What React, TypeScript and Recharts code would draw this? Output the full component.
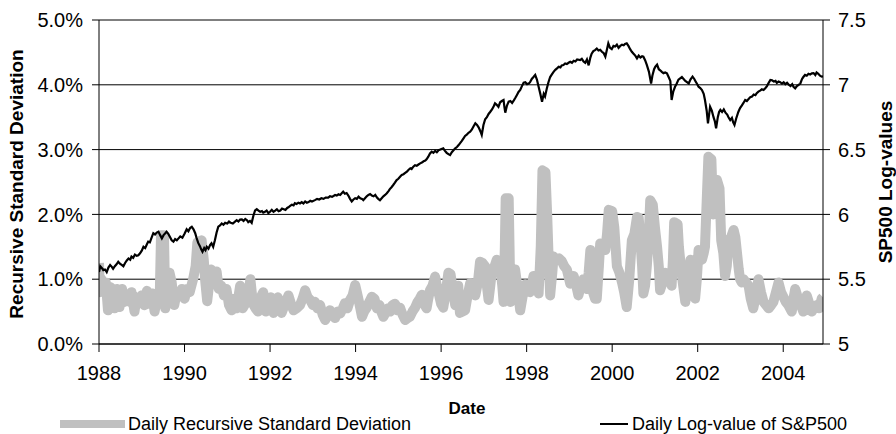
import React from "react";
import { LineChart, Line, XAxis, YAxis, CartesianGrid } from "recharts";

// daily recursive standard deviation of returns, in percent: [year, value]
const sdSeries: [number, number][] = [
  [1988.0, 1.25], [1988.02, 0.8], [1988.06, 1.0], [1988.11, 0.9], [1988.16, 0.95], [1988.21, 0.52],
  [1988.26, 0.88], [1988.31, 0.85], [1988.36, 0.55], [1988.42, 0.85], [1988.48, 0.57], [1988.54, 0.85],
  [1988.6, 0.65], [1988.66, 0.72], [1988.72, 0.65], [1988.76, 0.8], [1988.83, 0.5], [1988.88, 0.72],
  [1988.94, 0.68], [1989.0, 0.75], [1989.06, 0.6], [1989.12, 0.82], [1989.18, 0.62], [1989.24, 0.78],
  [1989.3, 0.5], [1989.36, 0.7], [1989.42, 0.72], [1989.45, 1.68], [1989.52, 1.68], [1989.55, 0.55],
  [1989.6, 0.8], [1989.65, 1.1], [1989.7, 0.95], [1989.76, 0.6], [1989.82, 0.8], [1989.88, 0.75],
  [1989.94, 0.85], [1990.0, 0.7], [1990.06, 0.85], [1990.12, 0.8], [1990.2, 1.0], [1990.26, 1.2],
  [1990.3, 1.57], [1990.4, 1.6], [1990.45, 1.3], [1990.48, 1.0], [1990.53, 0.66], [1990.58, 0.95],
  [1990.62, 1.15], [1990.68, 1.0], [1990.75, 1.12], [1990.8, 0.85], [1990.86, 0.9], [1990.92, 0.75],
  [1990.98, 0.85], [1991.04, 0.6], [1991.1, 0.52], [1991.16, 0.7], [1991.22, 0.55], [1991.3, 0.9],
  [1991.36, 0.55], [1991.42, 0.62], [1991.48, 0.7], [1991.54, 1.0], [1991.6, 0.62], [1991.66, 0.55],
  [1991.72, 0.5], [1991.78, 0.72], [1991.84, 0.8], [1991.9, 0.5], [1991.96, 0.55], [1992.02, 0.72],
  [1992.08, 0.48], [1992.12, 0.6], [1992.18, 0.72], [1992.23, 0.62], [1992.27, 0.48], [1992.35, 0.62],
  [1992.43, 0.75], [1992.5, 0.6], [1992.55, 0.52], [1992.62, 0.55], [1992.7, 0.6], [1992.76, 0.7],
  [1992.82, 0.83], [1992.88, 0.72], [1992.94, 0.68], [1993.0, 0.6], [1993.05, 0.65], [1993.11, 0.55],
  [1993.17, 0.6], [1993.23, 0.45], [1993.29, 0.37], [1993.35, 0.45], [1993.4, 0.52], [1993.46, 0.45],
  [1993.52, 0.4], [1993.58, 0.5], [1993.64, 0.47], [1993.7, 0.55], [1993.75, 0.63], [1993.81, 0.55],
  [1993.87, 0.68], [1993.93, 0.75], [1993.99, 0.91], [1994.03, 0.8], [1994.07, 0.68], [1994.11, 0.55],
  [1994.15, 0.42], [1994.2, 0.5], [1994.26, 0.56], [1994.32, 0.65], [1994.38, 0.73], [1994.44, 0.7],
  [1994.5, 0.55], [1994.56, 0.6], [1994.6, 0.5], [1994.65, 0.42], [1994.7, 0.48], [1994.76, 0.55],
  [1994.81, 0.5], [1994.86, 0.6], [1994.92, 0.62], [1994.98, 0.52], [1995.04, 0.56], [1995.1, 0.45],
  [1995.16, 0.37], [1995.22, 0.4], [1995.27, 0.42], [1995.33, 0.5], [1995.39, 0.56], [1995.45, 0.65],
  [1995.5, 0.7], [1995.55, 0.76], [1995.6, 0.62], [1995.66, 0.55], [1995.7, 0.7], [1995.74, 0.83],
  [1995.8, 0.9], [1995.86, 1.04], [1995.9, 0.9], [1995.94, 0.79], [1996.0, 0.62], [1996.05, 0.56],
  [1996.11, 0.8], [1996.17, 1.1], [1996.22, 1.08], [1996.28, 0.8], [1996.33, 0.6], [1996.38, 0.72],
  [1996.4, 0.9], [1996.44, 0.48], [1996.5, 0.5], [1996.56, 0.52], [1996.62, 0.75], [1996.68, 0.94],
  [1996.74, 0.85], [1996.8, 0.75], [1996.86, 0.95], [1996.91, 1.27], [1996.97, 1.25], [1997.03, 1.2],
  [1997.07, 0.9], [1997.11, 0.68], [1997.15, 0.9], [1997.19, 1.14], [1997.25, 1.2], [1997.3, 1.3],
  [1997.38, 1.22], [1997.43, 0.9], [1997.46, 0.65], [1997.49, 1.5], [1997.51, 2.25], [1997.58, 2.25],
  [1997.6, 1.5], [1997.62, 0.65], [1997.67, 0.9], [1997.73, 1.15], [1997.78, 0.9], [1997.85, 0.52],
  [1997.91, 0.75], [1997.97, 0.92], [1998.03, 0.85], [1998.08, 0.8], [1998.16, 1.05], [1998.22, 0.95],
  [1998.28, 0.78], [1998.33, 1.5], [1998.37, 2.68], [1998.44, 2.65], [1998.48, 2.0], [1998.51, 1.4],
  [1998.55, 0.75], [1998.6, 1.1], [1998.63, 1.35], [1998.7, 1.3], [1998.76, 1.32], [1998.82, 1.28],
  [1998.88, 1.2], [1998.94, 1.15], [1999.02, 0.93], [1999.1, 1.05], [1999.16, 0.9], [1999.21, 0.75],
  [1999.27, 0.9], [1999.33, 1.0], [1999.41, 0.85], [1999.45, 1.1], [1999.49, 1.45], [1999.53, 1.1],
  [1999.56, 0.78], [1999.6, 0.7], [1999.64, 0.7], [1999.69, 1.2], [1999.72, 1.55], [1999.78, 1.5],
  [1999.84, 1.45], [1999.88, 1.7], [1999.92, 2.07], [2000.0, 2.05], [2000.05, 1.8], [2000.11, 1.2],
  [2000.17, 1.1], [2000.23, 0.95], [2000.28, 0.8], [2000.34, 0.57], [2000.4, 1.0], [2000.46, 1.6],
  [2000.52, 1.7], [2000.58, 1.96], [2000.62, 1.95], [2000.66, 1.6], [2000.7, 1.2], [2000.73, 0.78],
  [2000.77, 0.9], [2000.81, 1.2], [2000.85, 1.6], [2000.89, 2.22], [2000.95, 2.15], [2001.0, 1.8],
  [2001.05, 1.5], [2001.09, 1.2], [2001.12, 0.83], [2001.18, 0.95], [2001.24, 1.1], [2001.32, 1.07],
  [2001.39, 0.9], [2001.42, 1.3], [2001.45, 1.88], [2001.53, 1.85], [2001.56, 1.5], [2001.59, 1.3],
  [2001.65, 0.95], [2001.71, 0.65], [2001.77, 0.9], [2001.83, 1.3], [2001.87, 1.1], [2001.9, 0.9],
  [2001.94, 0.7], [2001.98, 1.0], [2002.02, 1.45], [2002.06, 1.4], [2002.1, 1.3], [2002.14, 1.4],
  [2002.17, 1.5], [2002.21, 2.2], [2002.25, 2.89], [2002.32, 2.85], [2002.36, 2.0], [2002.41, 2.3],
  [2002.45, 2.53], [2002.51, 2.4], [2002.55, 1.6], [2002.6, 1.4], [2002.64, 1.05], [2002.68, 1.2],
  [2002.72, 1.6], [2002.78, 1.65], [2002.84, 1.76], [2002.88, 1.65], [2002.92, 1.4], [2002.96, 1.15],
  [2002.99, 1.0], [2003.03, 0.95], [2003.07, 1.0], [2003.13, 0.95], [2003.19, 0.9], [2003.24, 0.7],
  [2003.3, 0.55], [2003.36, 0.75], [2003.42, 1.0], [2003.48, 0.8], [2003.54, 0.65], [2003.6, 0.6],
  [2003.66, 0.55], [2003.72, 0.6], [2003.77, 0.65], [2003.83, 0.8], [2003.89, 0.95], [2003.95, 0.8],
  [2004.01, 0.72], [2004.06, 0.65], [2004.12, 0.6], [2004.2, 0.5], [2004.24, 0.7], [2004.28, 0.85],
  [2004.34, 0.72], [2004.4, 0.62], [2004.47, 0.5], [2004.51, 0.6], [2004.55, 0.75], [2004.61, 0.62],
  [2004.67, 0.5], [2004.72, 0.58], [2004.78, 0.6], [2004.84, 0.55], [2004.9, 0.7], [2004.93, 0.72],
];

// natural log of the S&P500 close: [year, value]
const logSeries: [number, number][] = [
  [1988.0, 5.555], [1988.03, 5.6], [1988.07, 5.585], [1988.1, 5.57], [1988.14, 5.575], [1988.18, 5.555],
  [1988.22, 5.59], [1988.26, 5.61], [1988.3, 5.595], [1988.33, 5.58], [1988.37, 5.6], [1988.41, 5.615],
  [1988.45, 5.635], [1988.49, 5.62], [1988.53, 5.61], [1988.57, 5.6], [1988.61, 5.625], [1988.65, 5.645],
  [1988.69, 5.66], [1988.73, 5.65], [1988.76, 5.675], [1988.8, 5.665], [1988.84, 5.69], [1988.88, 5.68],
  [1988.92, 5.685], [1988.96, 5.7], [1989.0, 5.72], [1989.04, 5.75], [1989.08, 5.74], [1989.12, 5.77],
  [1989.15, 5.79], [1989.19, 5.785], [1989.23, 5.82], [1989.27, 5.855], [1989.31, 5.845], [1989.35, 5.86],
  [1989.39, 5.867], [1989.43, 5.84], [1989.47, 5.815], [1989.51, 5.84], [1989.55, 5.855], [1989.58, 5.867],
  [1989.62, 5.85], [1989.66, 5.825], [1989.7, 5.8], [1989.74, 5.79], [1989.78, 5.81], [1989.82, 5.8],
  [1989.86, 5.815], [1989.9, 5.83], [1989.95, 5.82], [1990.0, 5.85], [1990.05, 5.885], [1990.09, 5.87],
  [1990.13, 5.895], [1990.17, 5.905], [1990.21, 5.885], [1990.25, 5.855], [1990.28, 5.82], [1990.32, 5.78],
  [1990.36, 5.755], [1990.39, 5.73], [1990.42, 5.712], [1990.46, 5.74], [1990.49, 5.725], [1990.52, 5.75],
  [1990.56, 5.735], [1990.6, 5.765], [1990.63, 5.777], [1990.67, 5.75], [1990.71, 5.8], [1990.75, 5.86],
  [1990.79, 5.905], [1990.83, 5.915], [1990.87, 5.93], [1990.91, 5.92], [1990.95, 5.935], [1991.0, 5.93],
  [1991.04, 5.945], [1991.08, 5.935], [1991.13, 5.93], [1991.18, 5.944], [1991.22, 5.955], [1991.26, 5.945],
  [1991.3, 5.96], [1991.34, 5.962], [1991.38, 5.95], [1991.42, 5.965], [1991.46, 5.955], [1991.49, 5.94],
  [1991.53, 5.95], [1991.57, 5.935], [1991.61, 5.99], [1991.65, 6.03], [1991.69, 6.04], [1991.73, 6.03],
  [1991.77, 6.02], [1991.81, 6.025], [1991.84, 6.013], [1991.88, 6.02], [1991.92, 6.03], [1991.96, 6.01],
  [1992.0, 6.02], [1992.04, 6.035], [1992.08, 6.02], [1992.12, 6.029], [1992.16, 6.04], [1992.2, 6.025],
  [1992.24, 6.03], [1992.28, 6.045], [1992.32, 6.04], [1992.36, 6.035], [1992.4, 6.05], [1992.43, 6.055],
  [1992.47, 6.065], [1992.51, 6.075], [1992.55, 6.07], [1992.58, 6.086], [1992.62, 6.08], [1992.66, 6.09],
  [1992.7, 6.085], [1992.74, 6.095], [1992.78, 6.085], [1992.82, 6.1], [1992.86, 6.09], [1992.9, 6.095],
  [1992.94, 6.105], [1992.98, 6.1], [1993.05, 6.11], [1993.1, 6.12], [1993.15, 6.115], [1993.2, 6.125],
  [1993.25, 6.12], [1993.3, 6.13], [1993.36, 6.13], [1993.4, 6.14], [1993.45, 6.135], [1993.52, 6.15],
  [1993.56, 6.145], [1993.6, 6.155], [1993.64, 6.15], [1993.68, 6.165], [1993.71, 6.175], [1993.75, 6.16],
  [1993.79, 6.165], [1993.83, 6.145], [1993.87, 6.12], [1993.91, 6.1], [1993.95, 6.115], [1993.99, 6.125],
  [1994.03, 6.12], [1994.07, 6.137], [1994.11, 6.125], [1994.15, 6.12], [1994.18, 6.11], [1994.22, 6.125],
  [1994.26, 6.14], [1994.3, 6.15], [1994.34, 6.157], [1994.38, 6.145], [1994.42, 6.14], [1994.46, 6.15],
  [1994.5, 6.13], [1994.53, 6.12], [1994.57, 6.11], [1994.61, 6.125], [1994.65, 6.14], [1994.69, 6.15],
  [1994.73, 6.163], [1994.77, 6.18], [1994.8, 6.195], [1994.84, 6.21], [1994.88, 6.227], [1994.92, 6.245],
  [1994.96, 6.265], [1995.0, 6.275], [1995.04, 6.29], [1995.08, 6.305], [1995.12, 6.31], [1995.16, 6.32],
  [1995.2, 6.33], [1995.24, 6.345], [1995.28, 6.355], [1995.31, 6.35], [1995.35, 6.368], [1995.39, 6.38],
  [1995.43, 6.375], [1995.47, 6.385], [1995.51, 6.394], [1995.55, 6.4], [1995.59, 6.41], [1995.63, 6.415],
  [1995.66, 6.425], [1995.7, 6.445], [1995.74, 6.47], [1995.78, 6.484], [1995.82, 6.475], [1995.86, 6.49],
  [1995.9, 6.48], [1995.94, 6.495], [1995.98, 6.5], [1996.01, 6.505], [1996.05, 6.51], [1996.09, 6.49],
  [1996.13, 6.475], [1996.17, 6.465], [1996.21, 6.458], [1996.25, 6.48], [1996.29, 6.495], [1996.33, 6.51],
  [1996.37, 6.52], [1996.41, 6.535], [1996.44, 6.548], [1996.48, 6.565], [1996.52, 6.585], [1996.56, 6.605],
  [1996.6, 6.615], [1996.64, 6.63], [1996.68, 6.638], [1996.72, 6.655], [1996.76, 6.68], [1996.8, 6.703],
  [1996.84, 6.69], [1996.88, 6.67], [1996.92, 6.64], [1996.95, 6.613], [1996.99, 6.69], [1997.03, 6.734],
  [1997.07, 6.75], [1997.11, 6.775], [1997.15, 6.792], [1997.19, 6.81], [1997.23, 6.835], [1997.26, 6.857],
  [1997.3, 6.845], [1997.34, 6.83], [1997.38, 6.865], [1997.42, 6.875], [1997.46, 6.883], [1997.48, 6.83],
  [1997.5, 6.785], [1997.54, 6.84], [1997.58, 6.87], [1997.62, 6.875], [1997.66, 6.86], [1997.7, 6.88],
  [1997.73, 6.896], [1997.77, 6.92], [1997.81, 6.945], [1997.85, 6.96], [1997.89, 6.99], [1997.93, 7.016],
  [1997.97, 7.02], [1998.01, 7.005], [1998.05, 7.01], [1998.08, 7.02], [1998.12, 7.045], [1998.16, 7.06],
  [1998.2, 7.076], [1998.24, 7.04], [1998.28, 6.985], [1998.32, 6.93], [1998.36, 6.87], [1998.4, 6.93],
  [1998.43, 6.91], [1998.47, 6.97], [1998.51, 7.02], [1998.55, 7.06], [1998.59, 7.08], [1998.63, 7.1],
  [1998.67, 7.115], [1998.71, 7.127], [1998.75, 7.14], [1998.79, 7.135], [1998.82, 7.15], [1998.86, 7.153],
  [1998.9, 7.165], [1998.94, 7.16], [1998.98, 7.17], [1999.02, 7.178], [1999.06, 7.17], [1999.1, 7.185],
  [1999.14, 7.18], [1999.18, 7.195], [1999.25, 7.19], [1999.29, 7.2], [1999.33, 7.18], [1999.37, 7.17],
  [1999.41, 7.195], [1999.45, 7.15], [1999.49, 7.21], [1999.52, 7.24], [1999.56, 7.26], [1999.6, 7.268],
  [1999.64, 7.28], [1999.68, 7.265], [1999.72, 7.27], [1999.76, 7.255], [1999.8, 7.245], [1999.84, 7.217],
  [1999.87, 7.26], [1999.91, 7.32], [1999.95, 7.285], [1999.99, 7.275], [2000.03, 7.3], [2000.07, 7.295],
  [2000.11, 7.31], [2000.15, 7.285], [2000.19, 7.3], [2000.23, 7.31], [2000.27, 7.305], [2000.3, 7.315],
  [2000.34, 7.32], [2000.38, 7.3], [2000.42, 7.275], [2000.46, 7.255], [2000.5, 7.24], [2000.54, 7.225],
  [2000.58, 7.204], [2000.62, 7.225], [2000.66, 7.21], [2000.7, 7.22], [2000.73, 7.217], [2000.77, 7.19],
  [2000.81, 7.153], [2000.86, 7.1], [2000.91, 7.01], [2000.94, 7.07], [2000.98, 7.12], [2001.01, 7.14],
  [2001.05, 7.155], [2001.09, 7.12], [2001.13, 7.11], [2001.16, 7.1], [2001.2, 7.09], [2001.24, 7.095],
  [2001.28, 7.088], [2001.32, 7.06], [2001.36, 7.03], [2001.39, 6.883], [2001.43, 6.95], [2001.47, 6.985],
  [2001.51, 7.01], [2001.55, 7.04], [2001.59, 7.05], [2001.63, 7.06], [2001.67, 7.045], [2001.71, 7.03],
  [2001.75, 7.02], [2001.79, 7.01], [2001.83, 7.04], [2001.88, 7.063], [2001.92, 7.045], [2001.96, 7.02],
  [2001.98, 7.01], [2002.02, 6.985], [2002.06, 6.975], [2002.1, 6.96], [2002.14, 6.93], [2002.17, 6.883],
  [2002.21, 6.8], [2002.24, 6.703], [2002.27, 6.78], [2002.29, 6.83], [2002.33, 6.8], [2002.37, 6.75],
  [2002.4, 6.72], [2002.43, 6.664], [2002.47, 6.75], [2002.5, 6.79], [2002.53, 6.806], [2002.57, 6.79],
  [2002.61, 6.81], [2002.65, 6.785], [2002.69, 6.77], [2002.72, 6.75], [2002.76, 6.728], [2002.8, 6.745],
  [2002.83, 6.71], [2002.86, 6.69], [2002.9, 6.74], [2002.95, 6.79], [2002.99, 6.82], [2003.03, 6.84],
  [2003.07, 6.86], [2003.11, 6.883], [2003.15, 6.875], [2003.19, 6.89], [2003.23, 6.905], [2003.27, 6.91],
  [2003.31, 6.925], [2003.35, 6.92], [2003.38, 6.935], [2003.42, 6.947], [2003.46, 6.955], [2003.5, 6.965],
  [2003.54, 6.96], [2003.58, 6.973], [2003.62, 6.99], [2003.66, 7.015], [2003.7, 7.037], [2003.74, 7.035],
  [2003.78, 7.025], [2003.82, 7.03], [2003.85, 7.015], [2003.89, 7.025], [2003.93, 7.02], [2003.97, 7.01],
  [2004.01, 7.02], [2004.05, 7.005], [2004.09, 7.015], [2004.13, 7.0], [2004.17, 6.99], [2004.21, 7.005],
  [2004.24, 6.985], [2004.28, 6.973], [2004.32, 6.99], [2004.36, 7.0], [2004.4, 7.01], [2004.44, 7.045],
  [2004.47, 7.06], [2004.51, 7.076], [2004.55, 7.07], [2004.59, 7.085], [2004.63, 7.08], [2004.67, 7.088],
  [2004.71, 7.09], [2004.75, 7.075], [2004.78, 7.095], [2004.82, 7.085], [2004.86, 7.07], [2004.9, 7.063],
  [2004.93, 7.065],
];

const yearTicks = [1988, 1990, 1992, 1994, 1996, 1998, 2000, 2002, 2004];
const sdTicks = [0, 1, 2, 3, 4, 5];
const logTicks = [5, 5.5, 6, 6.5, 7, 7.5];

const FONT = "'Liberation Sans', Arial, sans-serif";

const sdData = sdSeries.map(([t, v]) => ({ t, v }));
const logData = logSeries.map(([t, v]) => ({ t, v }));

const tickStyle = { fontSize: 20, fill: "#000", fontFamily: FONT };
const titleStyle: React.CSSProperties = {
  position: "absolute",
  fontFamily: FONT,
  fontWeight: "bold",
  fontSize: 19,
  color: "#000",
  whiteSpace: "nowrap",
};
const legendText: React.CSSProperties = {
  position: "absolute",
  top: 424,
  transform: "translateY(-50%)",
  fontFamily: FONT,
  fontSize: 18,
  whiteSpace: "nowrap",
};

export default function App() {
  return (
    <div style={{ position: "absolute", left: 0, top: 0, width: 896, height: 434, background: "#fff" }}>
      <LineChart width={896} height={434} margin={{ top: 20, right: 0, bottom: 0, left: 0 }}>
        <CartesianGrid vertical={false} stroke="#000" yAxisId="sd" />
        <XAxis
          dataKey="t"
          type="number"
          domain={[1988, 2004.93]}
          ticks={yearTicks}
          height={90}
          tickSize={8}
          tickMargin={14}
          tick={tickStyle}
          stroke="#000"
          allowDataOverflow
        />
        <YAxis
          yAxisId="sd"
          domain={[0, 5]}
          ticks={sdTicks}
          width={99}
          tickSize={7}
          tickMargin={9}
          tick={tickStyle}
          tickFormatter={(v: number) => `${v.toFixed(1)}%`}
          stroke="#000"
        />
        <YAxis
          yAxisId="log"
          orientation="right"
          domain={[5, 7.5]}
          ticks={logTicks}
          width={73}
          tickSize={7}
          tickMargin={8}
          tick={tickStyle}
          stroke="#000"
        />
        <Line
          yAxisId="sd"
          data={sdData}
          dataKey="v"
          stroke="#c0c0c0"
          strokeWidth={10}
          strokeLinejoin="round"
          dot={false}
          activeDot={false}
          isAnimationActive={false}
        />
        <Line
          yAxisId="log"
          data={logData}
          dataKey="v"
          stroke="#000"
          strokeWidth={2.2}
          dot={false}
          activeDot={false}
          isAnimationActive={false}
        />
      </LineChart>

      {/* axis titles */}
      <div style={{ ...titleStyle, left: 17, top: 184, transform: "translate(-50%, -50%) rotate(-90deg)" }}>
        Recursive Standard Deviation
      </div>
      <div style={{ ...titleStyle, left: 886, top: 182, transform: "translate(-50%, -50%) rotate(-90deg)" }}>
        SP500 Log-values
      </div>
      <div style={{ ...titleStyle, fontSize: 17, left: 467, top: 409, transform: "translate(-50%, -50%)" }}>Date</div>

      {/* legend */}
      <div style={{ position: "absolute", left: 60, top: 420, width: 65, height: 8, background: "#c0c0c0" }} />
      <div style={{ ...legendText, left: 128 }}>Daily Recursive Standard Deviation</div>
      <div style={{ position: "absolute", left: 600, top: 423, width: 28, height: 2, background: "#000" }} />
      <div style={{ ...legendText, left: 632 }}>Daily Log-value of S&amp;P500</div>
    </div>
  );
}
